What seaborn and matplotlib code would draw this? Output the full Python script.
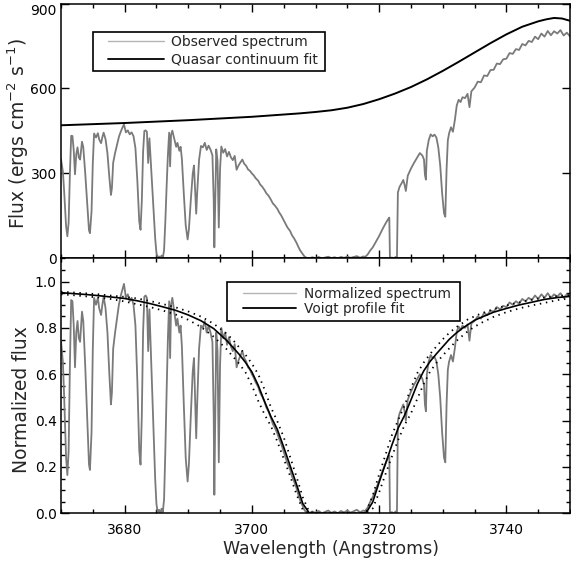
import matplotlib
matplotlib.use("Agg")
import matplotlib.pyplot as plt
from matplotlib.lines import Line2D
from matplotlib.patches import Rectangle
from matplotlib.ticker import MultipleLocator
import pandas as pd
import seaborn as sns

# ---------------- data ----------------
wave = [3670.0, 3670.3, 3670.5, 3670.8, 3671.0, 3671.2, 3671.4, 3671.6, 3671.8, 3672.0,
        3672.2, 3672.4, 3672.6, 3672.8, 3673.0, 3673.3, 3673.5, 3673.8, 3674.1, 3674.4,
        3674.55, 3674.8, 3675.0, 3675.2, 3675.5, 3675.8, 3676.0, 3676.3, 3676.5, 3676.7,
        3677.0, 3677.3, 3677.6, 3677.85, 3678.0, 3678.2, 3678.5, 3678.8, 3679.1, 3679.4,
        3679.7, 3679.9, 3680.2, 3680.5, 3680.8, 3681.1, 3681.4, 3681.7, 3682.0, 3682.3,
        3682.5, 3682.7, 3682.9, 3683.1, 3683.3, 3683.5, 3683.7, 3683.9, 3684.2, 3684.5,
        3684.8, 3685.0, 3685.2, 3685.4, 3685.6, 3685.8, 3686.0, 3686.2, 3686.4, 3686.6,
        3686.8, 3687.0, 3687.15, 3687.3, 3687.5, 3687.8, 3688.1, 3688.3, 3688.6, 3688.8,
        3689.0, 3689.3, 3689.6, 3689.9, 3690.1, 3690.4, 3690.7, 3690.9, 3691.1, 3691.25,
        3691.4, 3691.7, 3692.0, 3692.3, 3692.6, 3692.9, 3693.2, 3693.5, 3693.8, 3694.0,
        3694.1, 3694.25, 3694.4, 3694.6, 3694.8, 3695.0, 3695.2, 3695.5, 3695.8, 3696.1,
        3696.4, 3696.7, 3697.0, 3697.3, 3697.6, 3697.9, 3698.2, 3698.5, 3698.8, 3699.1,
        3699.4, 3699.7, 3700.0, 3700.3, 3700.6, 3701.0, 3701.3, 3701.6, 3702.0, 3702.3,
        3702.6, 3703.0, 3703.3, 3703.6, 3704.0, 3704.3, 3704.6, 3705.0, 3705.3, 3705.6,
        3706.0, 3706.3, 3706.6, 3707.0, 3707.3, 3707.6, 3708.0, 3708.3, 3708.6, 3709.0,
        3709.5, 3710.0, 3710.5, 3711.0, 3711.5, 3712.0, 3712.5, 3713.0, 3713.5, 3714.0,
        3714.5, 3715.0, 3715.5, 3716.0, 3716.5, 3717.0, 3717.5, 3717.8, 3718.2, 3718.6,
        3719.0, 3719.5, 3720.0, 3720.5, 3721.0, 3721.4, 3721.6, 3721.7, 3722.0, 3722.3,
        3722.6, 3722.8, 3722.95, 3723.2, 3723.5, 3723.8, 3724.0, 3724.2, 3724.5, 3725.0,
        3725.5, 3726.0, 3726.4, 3726.8, 3727.05, 3727.2, 3727.35, 3727.5, 3727.8, 3728.1,
        3728.4, 3728.7, 3729.0, 3729.3, 3729.6, 3729.9, 3730.2, 3730.4, 3730.6, 3730.8,
        3731.0, 3731.3, 3731.6, 3731.9, 3732.2, 3732.5, 3732.8, 3733.1, 3733.5, 3733.9,
        3734.2, 3734.5, 3735.0, 3735.5, 3736.0, 3736.5, 3737.0, 3737.5, 3738.0, 3738.5,
        3739.0, 3739.5, 3740.0, 3740.5, 3741.0, 3741.5, 3742.0, 3742.5, 3743.0, 3743.5,
        3744.0, 3744.5, 3745.0, 3745.5, 3746.0, 3746.5, 3747.0, 3747.5, 3748.0, 3748.5,
        3749.0, 3749.5, 3750.0]

obs_flux = [350, 306, 235, 113, 78, 127, 301, 433, 432, 382,
            297, 368, 392, 356, 349, 412, 393, 303, 203, 99,
            89, 166, 337, 441, 427, 442, 420, 407, 428, 444,
            421, 371, 286, 224, 248, 338, 372, 401, 429, 448,
            464, 473, 445, 452, 438, 445, 431, 389, 274, 130,
            101, 202, 375, 450, 452, 447, 337, 424, 308, 198,
            72, 19, 2, 7, 0, 10, 2, 29, 131, 254,
            365, 444, 325, 436, 451, 423, 394, 408, 380, 394,
            351, 229, 117, 67, 102, 205, 298, 328, 230, 158,
            230, 348, 397, 392, 408, 383, 398, 384, 364, 207,
            39, 207, 385, 345, 109, 316, 395, 373, 386, 360,
            376, 357, 347, 362, 313, 328, 339, 349, 334, 327,
            314, 309, 300, 293, 283, 274, 261, 254, 241, 229,
            222, 207, 194, 187, 175, 162, 152, 135, 122, 109,
            97, 82, 72, 56, 41, 28, 15, 6, 2, 0,
            4, 1, 5, 0, 3, 6, 1, 4, 0, 5,
            2, 6, 2, 5, 8, 2, 7, 5, 14, 28,
            39, 59, 79, 102, 123, 138, 144, 0, 3, 0,
            5, 0, 233, 252, 264, 277, 260, 238, 292, 317,
            338, 357, 372, 363, 349, 295, 278, 380, 418, 438,
            431, 437, 427, 392, 329, 231, 159, 147, 314, 417,
            442, 463, 447, 488, 540, 560, 552, 569, 566, 581,
            534, 590, 603, 624, 622, 646, 644, 665, 666, 688,
            686, 703, 705, 725, 722, 739, 736, 757, 752, 768,
            764, 783, 774, 794, 783, 803, 788, 802, 794, 806,
            787, 797, 784]

norm_flux = [0.745, 0.65, 0.50, 0.24, 0.165, 0.27, 0.64, 0.92, 0.915, 0.81,
             0.63, 0.78, 0.83, 0.755, 0.74, 0.87, 0.83, 0.64, 0.43, 0.21,
             0.187, 0.35, 0.71, 0.93, 0.90, 0.93, 0.885, 0.856, 0.90, 0.935,
             0.885, 0.78, 0.60, 0.47, 0.52, 0.71, 0.78, 0.84, 0.90, 0.94,
             0.97, 0.99, 0.93, 0.945, 0.915, 0.93, 0.90, 0.81, 0.57, 0.27,
             0.21, 0.42, 0.78, 0.935, 0.94, 0.93, 0.70, 0.88, 0.64, 0.41,
             0.15, 0.04, 0.005, 0.015, 0.0, 0.02, 0.005, 0.06, 0.27, 0.525,
             0.755, 0.915, 0.67, 0.90, 0.93, 0.87, 0.81, 0.84, 0.78, 0.81,
             0.72, 0.47, 0.24, 0.137, 0.21, 0.42, 0.61, 0.67, 0.47, 0.324,
             0.47, 0.71, 0.81, 0.80, 0.83, 0.78, 0.81, 0.78, 0.74, 0.42,
             0.08, 0.42, 0.78, 0.70, 0.22, 0.64, 0.80, 0.755, 0.78, 0.727,
             0.76, 0.72, 0.70, 0.73, 0.63, 0.66, 0.68, 0.70, 0.67, 0.655,
             0.63, 0.62, 0.60, 0.585, 0.565, 0.545, 0.52, 0.505, 0.48, 0.455,
             0.44, 0.41, 0.385, 0.37, 0.345, 0.32, 0.30, 0.265, 0.24, 0.215,
             0.19, 0.16, 0.14, 0.11, 0.08, 0.055, 0.03, 0.012, 0.004, 0.0,
             0.008, 0.002, 0.01, 0.0, 0.006, 0.012, 0.002, 0.008, 0.0, 0.01,
             0.004, 0.012, 0.003, 0.009, 0.015, 0.004, 0.012, 0.01, 0.025, 0.05,
             0.07, 0.105, 0.14, 0.18, 0.215, 0.24, 0.25, 0.0, 0.005, 0.0,
             0.008, 0.0, 0.40, 0.43, 0.45, 0.47, 0.44, 0.40, 0.49, 0.525,
             0.555, 0.58, 0.60, 0.58, 0.555, 0.47, 0.44, 0.60, 0.656, 0.683,
             0.67, 0.675, 0.656, 0.60, 0.50, 0.35, 0.24, 0.22, 0.47, 0.62,
             0.655, 0.683, 0.655, 0.712, 0.784, 0.806, 0.79, 0.81, 0.80, 0.815,
             0.745, 0.82, 0.83, 0.85, 0.84, 0.865, 0.855, 0.875, 0.87, 0.89,
             0.88, 0.895, 0.89, 0.91, 0.90, 0.915, 0.905, 0.925, 0.915, 0.93,
             0.92, 0.94, 0.925, 0.945, 0.93, 0.95, 0.93, 0.945, 0.935, 0.95,
             0.93, 0.945, 0.935]

cont_wave = [3670.0, 3672.5, 3675.0, 3677.5, 3680.0, 3682.5, 3685.0, 3687.5, 3690.0, 3692.5,
             3695.0, 3697.5, 3700.0, 3702.5, 3705.0, 3707.5, 3710.0, 3712.5, 3715.0, 3717.5,
             3720.0, 3722.5, 3725.0, 3727.5, 3730.0, 3732.5, 3735.0, 3737.5, 3740.0, 3742.5,
             3745.0, 3746.25, 3747.5, 3748.75, 3750.0]
cont_flux = [470, 472, 474, 476, 478, 480.5, 483, 485.5, 488, 491,
             494, 497, 500, 504, 508, 512, 517, 523, 532, 545,
             562, 582, 605, 632, 662, 694, 727, 760, 791, 818,
             837, 844, 849, 847, 839]

model_wave = [3670, 3672, 3674, 3676, 3678, 3680, 3682, 3684, 3686, 3688, 3690, 3692, 3694,
              3696, 3697, 3698, 3699, 3700, 3701, 3702, 3703, 3704, 3705, 3706, 3707, 3708,
              3709, 3710, 3711, 3712, 3713, 3714, 3715, 3716, 3717, 3718, 3719, 3720, 3721,
              3722, 3723, 3724, 3725, 3726, 3727, 3728, 3729, 3730, 3731, 3732, 3733, 3734,
              3735, 3736, 3738, 3740, 3742, 3744, 3746, 3748, 3750]
voigt_fit = [0.952, 0.948, 0.944, 0.939, 0.933, 0.927, 0.917, 0.905, 0.891, 0.876, 0.856, 0.831, 0.797,
             0.747, 0.717, 0.686, 0.651, 0.610, 0.552, 0.482, 0.417, 0.362, 0.286, 0.206, 0.126, 0.042,
             0.002, 0.0, 0.0, 0.0, 0.0, 0.0, 0.0, 0.0, 0.0, 0.004, 0.049, 0.134, 0.214,
             0.294, 0.368, 0.423, 0.489, 0.558, 0.614, 0.655, 0.688, 0.719, 0.750, 0.775, 0.797, 0.815,
             0.833, 0.845, 0.868, 0.884, 0.899, 0.911, 0.923, 0.931, 0.936]
voigt_narrow = [0.956, 0.953, 0.949, 0.945, 0.939, 0.934, 0.927, 0.916, 0.903, 0.889, 0.871, 0.849, 0.818,
                0.776, 0.749, 0.716, 0.684, 0.646, 0.600, 0.534, 0.457, 0.397, 0.329, 0.244, 0.159, 0.069,
                0.007, 0.0, 0.0, 0.0, 0.0, 0.0, 0.0, 0.0, 0.0, 0.009, 0.077, 0.168, 0.252,
                0.337, 0.403, 0.465, 0.540, 0.605, 0.650, 0.687, 0.720, 0.751, 0.778, 0.801, 0.819, 0.838,
                0.850, 0.862, 0.881, 0.897, 0.910, 0.922, 0.931, 0.937, 0.942]
voigt_broad = [0.945, 0.941, 0.936, 0.931, 0.924, 0.914, 0.902, 0.890, 0.875, 0.858, 0.835, 0.804, 0.762,
               0.709, 0.677, 0.646, 0.608, 0.552, 0.485, 0.426, 0.376, 0.310, 0.236, 0.162, 0.083, 0.015,
               0.0, 0.0, 0.0, 0.0, 0.0, 0.0, 0.0, 0.0, 0.0, 0.001, 0.021, 0.090, 0.169,
               0.244, 0.317, 0.381, 0.431, 0.494, 0.558, 0.611, 0.649, 0.681, 0.711, 0.740, 0.764, 0.787,
               0.805, 0.821, 0.848, 0.868, 0.884, 0.897, 0.908, 0.920, 0.928]

x_ticks = [3680, 3700, 3720, 3740]
top_y_ticks = [0, 300, 600, 900]
bottom_y_ticks = [0.0, 0.2, 0.4, 0.6, 0.8, 1.0]

spec = pd.DataFrame({"wave": wave, "obs": obs_flux, "norm": norm_flux})
cont = pd.DataFrame({"wave": cont_wave, "flux": cont_flux})
model = pd.DataFrame({"wave": model_wave, "fit": voigt_fit,
                      "narrow": voigt_narrow, "broad": voigt_broad})

# ---------------- style ----------------
sns.set_style("ticks")
plt.rcParams["font.family"] = ["DejaVu Sans"]
plt.rcParams["axes.linewidth"] = 1.1

SPEC_COLOR = "#7a7a7a"
LEG_GRAY = "#b4b4b4"

fig = plt.figure(figsize=(5.71, 5.70), dpi=100)
W, H = 571.0, 570.0
x0, x1 = 61.0, 570.0
y_top, y_mid, y_bot = 3.5, 258.4, 513.3
ax1 = fig.add_axes([x0 / W, 1 - y_mid / H, (x1 - x0) / W, (y_mid - y_top) / H])
ax2 = fig.add_axes([x0 / W, 1 - y_bot / H, (x1 - x0) / W, (y_bot - y_mid) / H])

# ---------------- top panel ----------------
sns.lineplot(data=spec, x="wave", y="obs", ax=ax1, color=SPEC_COLOR, lw=1.3,
             estimator=None, sort=False)
sns.lineplot(data=cont, x="wave", y="flux", ax=ax1, color="black", lw=1.4,
             estimator=None, sort=False)
ax1.set_xlim(3670, 3750)
ax1.set_ylim(0, 900)
ax1.set_yticks(top_y_ticks)
ax1.set_yticklabels([str(v) for v in top_y_ticks])
ax1.set_xticks(x_ticks)
ax1.xaxis.set_minor_locator(MultipleLocator(5))
ax1.set_xticklabels([])
ax1.set_xlabel("")
ax1.set_ylabel(r"Flux (ergs cm$^{-2}$ s$^{-1}$)", fontsize=13.5)
ax1.yaxis.set_label_coords(-0.058, (y_mid - 133.5) / (y_mid - y_top))
ax1.get_yticklabels()[-1].set_va("top")

# ---------------- bottom panel ----------------
sns.lineplot(data=spec, x="wave", y="norm", ax=ax2, color=SPEC_COLOR, lw=1.3,
             estimator=None, sort=False)
sns.lineplot(data=model, x="wave", y="fit", ax=ax2, color="black", lw=1.2,
             estimator=None, sort=False)
for col in ["narrow", "broad"]:
    sns.lineplot(data=model, x="wave", y=col, ax=ax2, color="black", lw=1.3,
                 linestyle=(0, (0.8, 2.6)), estimator=None, sort=False)
ax2.set_xlim(3670, 3750)
ax2.set_ylim(0, 1.1)
ax2.set_yticks(bottom_y_ticks)
ax2.set_yticklabels([f"{v:.1f}" for v in bottom_y_ticks])
ax2.set_xticks(x_ticks)
ax2.set_xticklabels([str(v) for v in x_ticks])
ax2.xaxis.set_minor_locator(MultipleLocator(5))
ax2.yaxis.set_minor_locator(MultipleLocator(0.05))
ax2.set_xlabel("Wavelength (Angstroms)", fontsize=12.5)
ax2.xaxis.set_label_coords((331 - x0) / (x1 - x0), -0.105)
ax2.set_ylabel("Normalized flux", fontsize=13.5)
ax2.yaxis.set_label_coords(-0.058, (y_bot - 400) / (y_bot - y_mid))

for ax in (ax1, ax2):
    ax.tick_params(which="both", direction="in", top=True, right=True,
                   width=1.0, labelsize=10, colors="black")
    ax.tick_params(which="major", length=6.0)
    ax.tick_params(which="minor", length=3.0)
    ax.tick_params(axis="y", pad=3)
    ax.tick_params(axis="x", pad=7)
    for s in ax.spines.values():
        s.set_visible(True)
        s.set_color("black")
ax1.tick_params(axis="y", which="minor", left=False, right=False)

# ---------------- legends ----------------
def px_to_ax(px, py, top_px, bottom_px):
    return (px - x0) / (x1 - x0), (bottom_px - py) / (bottom_px - top_px)

# top legend box
bx, by = px_to_ax(93, 71, y_top, y_mid)
bx2, by2 = px_to_ax(325, 32.3, y_top, y_mid)
ax1.add_patch(Rectangle((bx, by), bx2 - bx, by2 - by, transform=ax1.transAxes,
                        fill=True, facecolor="white", edgecolor="black", lw=1.2, zorder=5))
h1 = [Line2D([], [], color=LEG_GRAY, lw=1.0), Line2D([], [], color="black", lw=1.3)]
lx, ly = px_to_ax(108, 35.0, y_top, y_mid)
leg1 = ax1.legend(h1, ["Observed spectrum", "Quasar continuum fit"], loc="upper left",
                  bbox_to_anchor=(lx, ly), frameon=False, fontsize=10, borderpad=0,
                  borderaxespad=0, handlelength=4.0, handletextpad=0.55, labelspacing=0.25)
leg1.set_zorder(6)

# bottom legend box
bx, by = px_to_ax(227, 320.7, y_mid, y_bot)
bx2, by2 = px_to_ax(460, 281.7, y_mid, y_bot)
ax2.add_patch(Rectangle((bx, by), bx2 - bx, by2 - by, transform=ax2.transAxes,
                        fill=True, facecolor="white", edgecolor="black", lw=1.2, zorder=5))
h2 = [Line2D([], [], color=LEG_GRAY, lw=1.0), Line2D([], [], color="black", lw=1.3)]
lx, ly = px_to_ax(243, 287.0, y_mid, y_bot)
leg2 = ax2.legend(h2, ["Normalized spectrum", "Voigt profile fit"], loc="upper left",
                  bbox_to_anchor=(lx, ly), frameon=False, fontsize=9.8, borderpad=0,
                  borderaxespad=0, handlelength=3.9, handletextpad=0.55, labelspacing=0.05)
leg2.set_zorder(6)

fig.savefig("out.png", dpi=100)
